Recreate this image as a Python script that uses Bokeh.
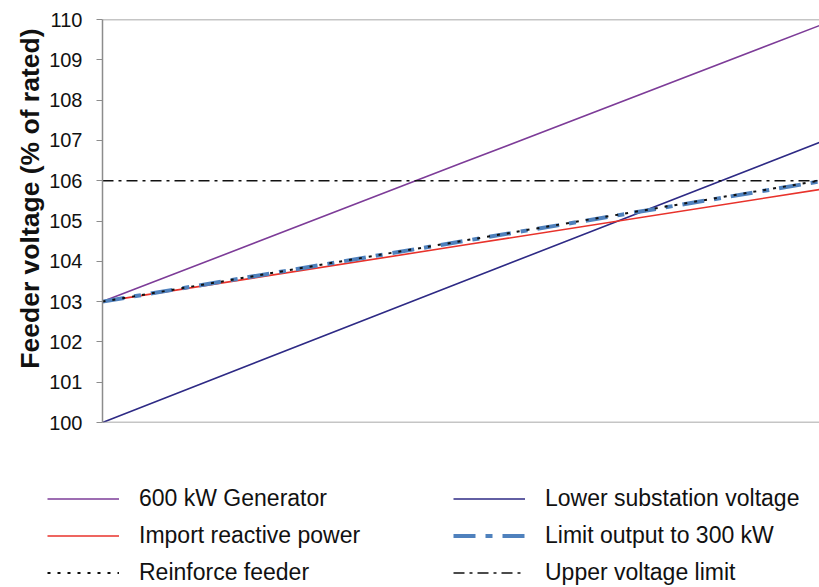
from bokeh.plotting import figure
from bokeh.models import Range1d, Legend, LegendItem, Span, FixedTicker, Title
from bokeh.layouts import column
from bokeh.embed import file_html
from bokeh.resources import INLINE

# Generator output (kW) at which feeder voltage was read
x_kw = [0, 300, 600]

gen_600 = [103.0, 106.43, 109.85]
lower_substation = [100.0, 103.48, 106.95]
import_reactive = [103.0, 104.39, 105.78]
limit_300 = [103.0, 104.49, 105.98]
reinforce = [103.0, 104.50, 106.0]
upper_limit = [106.0, 106.0, 106.0]

y_ticks = [100, 101, 102, 103, 104, 105, 106, 107, 108, 109, 110]
y_title = "Feeder voltage (% of rated)"

series = [
    ("600 kW Generator", gen_600, dict(line_color="#7D3C98", line_width=1.6)),
    ("Lower substation voltage", lower_substation, dict(line_color="#2E2A85", line_width=1.6)),
    ("Import reactive power", import_reactive, dict(line_color="#E8322B", line_width=1.6)),
    ("Limit output to 300 kW", limit_300, dict(line_color="#4F81BD", line_width=4, line_dash="22 10 7 10")),
    ("Reinforce feeder", reinforce, dict(line_color="#111111", line_width=2, line_dash="3 7")),
    ("Upper voltage limit", upper_limit, dict(line_color="#111111", line_width=1.5, line_dash="11 5 3 5")),
]
legend_order = ["600 kW Generator", "Import reactive power", "Reinforce feeder",
                "Lower substation voltage", "Limit output to 300 kW", "Upper voltage limit"]

p = figure(width=819, height=440, output_backend="svg", toolbar_location=None,
           x_range=Range1d(x_kw[0], x_kw[-1]), y_range=Range1d(y_ticks[0], y_ticks[-1]),
           x_axis_location=None,
           min_border_left=102, min_border_top=19, min_border_right=0, min_border_bottom=18)
p.frame_align = False
p.background_fill_color = "white"
p.border_fill_color = "white"
p.outline_line_color = None
p.grid.visible = False

ya = p.yaxis[0]
ya.ticker = FixedTicker(ticks=y_ticks)
ya.major_label_text_font = "Liberation Sans"
ya.major_label_text_font_size = "20px"
ya.major_label_text_color = "#111111"
ya.major_label_standoff = 14
ya.axis_line_color = "#8c8c8c"
ya.axis_line_width = 1.5
ya.major_tick_line_color = "#8c8c8c"
ya.major_tick_out = 6
ya.major_tick_in = 0
ya.minor_tick_line_color = None

p.add_layout(Title(text=y_title, align="right", offset=9, vertical_align="bottom",
                   text_font="Liberation Sans", text_font_style="bold",
                   text_font_size="26.5px", text_color="#111111", standoff=4), "left")

p.add_layout(Span(location=y_ticks[-1], dimension="width", line_color="#8c8c8c", line_width=1.5))
p.add_layout(Span(location=y_ticks[0], dimension="width", line_color="#8c8c8c", line_width=1.5))

for name, ys, style in series:
    p.line(x_kw, ys, **style)

# legend panel below the chart; its lines use the same data but lie outside its view
q = figure(width=819, height=147, output_backend="svg", toolbar_location=None,
           x_range=Range1d(x_kw[0], x_kw[-1]), y_range=Range1d(0, 1),
           x_axis_location=None, y_axis_location=None,
           min_border_left=0, min_border_top=0, min_border_right=0, min_border_bottom=0)
q.frame_align = False
q.grid.visible = False
q.outline_line_color = None
q.background_fill_color = "white"
q.border_fill_color = "white"

renderers = {}
for name, ys, style in series:
    renderers[name] = q.line(x_kw, ys, **style)

legend = Legend(items=[LegendItem(label=n, renderers=[renderers[n]]) for n in legend_order],
                ncols=2, orientation="vertical", location=(47, 1))
legend.label_text_font = "Liberation Sans"
legend.label_text_font_size = "23px"
legend.label_text_color = "#111111"
legend.glyph_width = 72
legend.glyph_height = 27
legend.label_height = 27
legend.label_width = 304
legend.label_standoff = 20
legend.spacing = 10
legend.padding = 0
legend.margin = 0
legend.border_line_color = None
legend.background_fill_alpha = 0
q.add_layout(legend, "center")

layout = column(p, q, spacing=0)
open("out.html", "w").write(file_html(layout, INLINE))
